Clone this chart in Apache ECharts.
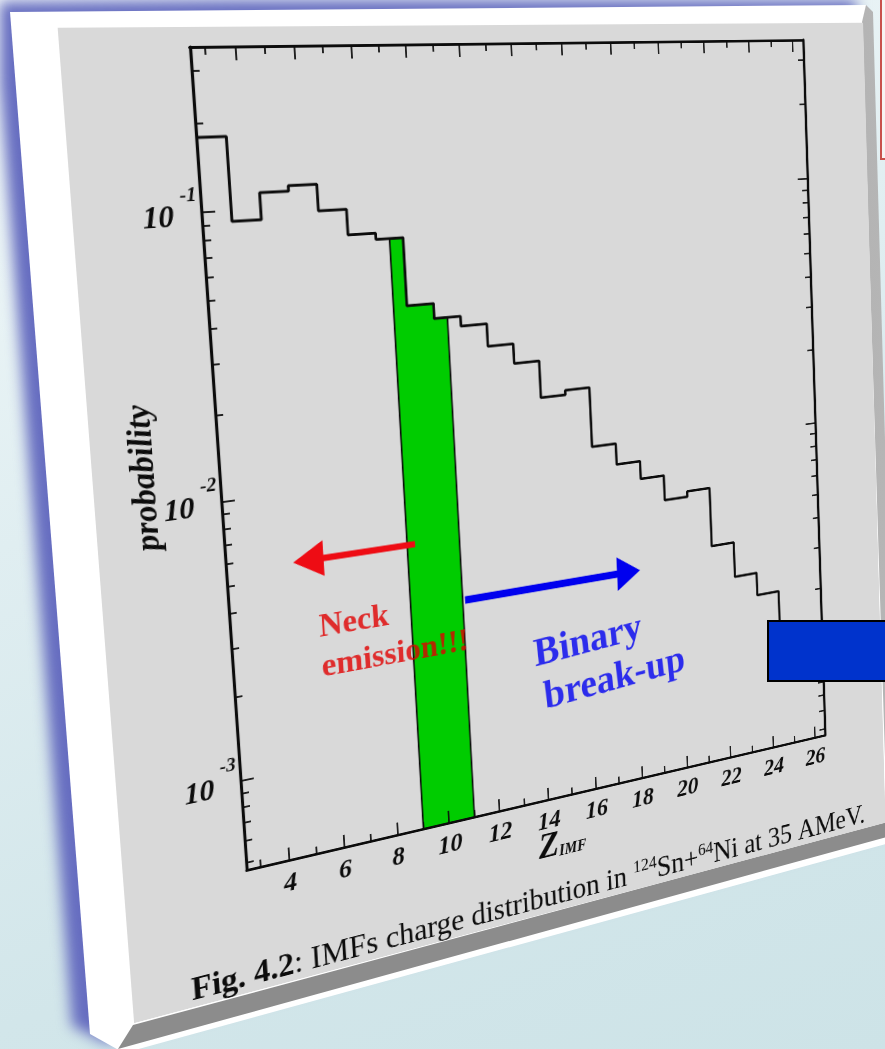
<!DOCTYPE html>
<html>
<head>
<meta charset="utf-8">
<script src="https://cdn.jsdelivr.net/npm/echarts@6/dist/echarts.min.js"></script>
<style>
  html, body { margin: 0; padding: 0; width: 885px; height: 1049px; overflow: hidden; }
  body { position: relative; background: linear-gradient(160deg, #f3f9fa 0%, #e0eef1 40%, #d2e6ea 75%, #cde3e7 100%); }
  .layer { position: absolute; left: 0; top: 0; width: 885px; height: 1049px; }
  #shadowWrap { filter: blur(7px); }
  #shadow { background: #666dc0; clip-path: polygon(-6px 2px, 856px -5px, 878px 832px, 106px 1043px, 72px 1026px); }
  #slab { background: #ffffff; clip-path: polygon(10px 12px, 866px 5px, 893px 842px, 124px 1053px, 90px 1034px); }
  #sideRight { background: linear-gradient(90deg, #8a8a8a, #b5b5b5); clip-path: polygon(862px 22px, 866px 5px, 873px 12px, 896px 832px, 887px 822px); }
  #sideBottom { background: #8c8c8c; clip-path: polygon(133px 1025px, 887px 822px, 890px 836px, 118px 1049px); }
  #face { position: absolute; left: 0; top: 0; transform-origin: 0 0; }
  #boxBlue { position: absolute; left: 767px; top: 620px; width: 130px; height: 58px; background: #0033cc; border: 2px solid #000; }
  #boxRed { position: absolute; left: 880px; top: -4px; width: 30px; height: 160px; background: #f7f3f3; border: 2px solid #c8504c; }
</style>
</head>
<body>
<div id="shadowWrap" class="layer"><div id="shadow" class="layer"></div></div>
<div id="slab" class="layer"></div>
<div id="sideRight" class="layer"></div>
<div id="sideBottom" class="layer"></div>
<div id="face"></div>
<div id="boxBlue"></div>
<div id="boxRed"></div>
<script>
// ---- data ----
const chargeZ = [3, 4, 5, 6, 7, 8, 9, 10, 11, 12, 13, 14, 15, 16, 17, 18, 19, 20, 21, 22, 23, 24, 25, 26];
const probability = [0.179, 0.092, 0.114, 0.119, 0.096, 0.078, 0.074, 0.042, 0.037, 0.034, 0.028, 0.0236,
                     0.0171, 0.0178, 0.0105, 0.0087, 0.0074, 0.0059, 0.0062, 0.0036, 0.0026, 0.0021, 0.0013, 0.0009];
const zRange = [2.5, 26.5];
const pRange = [4.7e-4, 0.36];
const zMajorTicks = [4, 6, 8, 10, 12, 14, 16, 18, 20, 22, 24, 26];
const zMinorTicks = [3, 5, 7, 9, 11, 13, 15, 17, 19, 21, 23, 25];
const zTickLabels = [4, 6, 8, 10, 12, 14, 16, 18, 20, 22, 24, 26];
const pMajorTicks = [1e-3, 1e-2, 1e-1];
const pMinorTicks = [5e-4, 6e-4, 7e-4, 8e-4, 9e-4,
                     2e-3, 3e-3, 4e-3, 5e-3, 6e-3, 7e-3, 8e-3, 9e-3,
                     2e-2, 3e-2, 4e-2, 5e-2, 6e-2, 7e-2, 8e-2, 9e-2,
                     0.2, 0.3];
const neckWindow = [9, 11];                          // highlighted Z interval
const arrowFrom = [[9.3, 0.0056], [11.09, 0.00322]];
const arrowTo = [[4.83, 0.0056], [18.3, 0.00322]];
const noteText = ['Neck', 'emission!!!', 'Binary', 'break-up'];
const noteAt = [[5.6, 0.00314], [5.61, 0.00224], [13.72, 0.00176], [14.04, 0.00118]];
const captionText = '{b|Fig. 4.2}{r|: IMFs charge distribution in }{s|124}{r|Sn+}{s|64}{r|Ni at 35 AMeV.}';

// ---- layout of the figure sheet ----
const CW = 944, CH = 1021;
const GL = 126, GT = 20, GW = 730, GH = 866;
// where the plot frame lands on the tilted sheet
const frameQuad = [[190, 47], [803, 40], [825, 735], [246.7, 870]];

function solveHomography(src, dst) {
  const M = [], r = [];
  for (let i = 0; i < 4; i++) {
    const [x, y] = src[i], [X, Y] = dst[i];
    M.push([x, y, 1, 0, 0, 0, -x * X, -y * X]); r.push(X);
    M.push([0, 0, 0, x, y, 1, -x * Y, -y * Y]); r.push(Y);
  }
  const n = 8;
  for (let c = 0; c < n; c++) {
    let p = c;
    for (let k = c + 1; k < n; k++) if (Math.abs(M[k][c]) > Math.abs(M[p][c])) p = k;
    [M[c], M[p]] = [M[p], M[c]]; [r[c], r[p]] = [r[p], r[c]];
    for (let k = 0; k < n; k++) {
      if (k === c) continue;
      const f = M[k][c] / M[c][c];
      for (let j = c; j < n; j++) M[k][j] -= f * M[c][j];
      r[k] -= f * r[c];
    }
  }
  return r.map((v, i) => v / M[i][i]);
}

const face = document.getElementById('face');
face.style.width = CW + 'px';
face.style.height = CH + 'px';
const [a, b, c, d, e, f, g, h] = solveHomography(
  [[GL, GT], [GL + GW, GT], [GL + GW, GT + GH], [GL, GT + GH]], frameQuad);
face.style.transform = `matrix3d(${a},${d},0,${g},${b},${e},0,${h},0,0,1,0,${c},${f},0,1)`;

// ---- chart ----
const serif = "'Liberation Serif','Times New Roman',serif";
const ink = '#0c0c0c';

const stepData = chargeZ.map((z, i) => [z - 0.5, probability[i]]);
stepData.push([chargeZ[chargeZ.length - 1] + 0.5, probability[probability.length - 1]]);

function neckOutline() {
  const pts = [[neckWindow[0], pRange[0]]];
  chargeZ.forEach((z, i) => {
    const lo = Math.max(z - 0.5, neckWindow[0]);
    const hi = Math.min(z + 0.5, neckWindow[1]);
    if (hi > lo) { pts.push([lo, probability[i]], [hi, probability[i]]); }
  });
  pts.push([neckWindow[1], pRange[0]]);
  return pts;
}

const axisFont = { fontFamily: serif, fontWeight: 'bold', fontStyle: 'italic', color: ink };

function xAxis(position, ticks, len, labels) {
  return {
    type: 'value', position, min: zRange[0], max: zRange[1],
    axisLine: { show: !!labels || position === 'top', onZero: false, lineStyle: { color: ink, width: 3.2 } },
    axisTick: { show: true, inside: true, length: len, customValues: ticks, lineStyle: { color: ink, width: 1.8 } },
    axisLabel: labels ? Object.assign({ show: true, customValues: labels, margin: 12, fontSize: 29 }, axisFont) : { show: false },
    splitLine: { show: false }
  };
}
function yAxis(position, ticks, len, labels) {
  return {
    type: 'log', logBase: 10, position, min: pRange[0], max: pRange[1],
    axisLine: { show: !!labels || position === 'right', onZero: false, lineStyle: { color: ink, width: 3.2 } },
    axisTick: { show: true, inside: true, length: len, customValues: ticks, lineStyle: { color: ink, width: 1.8 } },
    minorTick: { show: false },
    axisLabel: labels ? {
      show: true, customValues: labels, margin: 4, padding: [10, 0, 0, 0],
      formatter: v => '{b|10}{s|-' + Math.round(-Math.log10(v)) + '}',
      rich: {
        b: Object.assign({ fontSize: 31, lineHeight: 31, verticalAlign: 'bottom' }, axisFont),
        s: Object.assign({ fontSize: 20, lineHeight: 20, verticalAlign: 'bottom', padding: [0, 0, 28, 7] }, axisFont)
      }
    } : { show: false },
    splitLine: { show: false }
  };
}

const xAxes = [
  xAxis('bottom', zMajorTicks, 14, zTickLabels),
  xAxis('bottom', zMinorTicks, 8, null),
  xAxis('top', zMajorTicks, 14, null),
  xAxis('top', zMinorTicks, 8, null)
];
Object.assign(xAxes[0], {
  name: '{z|Z}{sub|IMF}', nameLocation: 'middle', nameGap: 36, nameMoveOverlap: false,
  nameTextStyle: { rich: {
    z: Object.assign({ fontSize: 42, lineHeight: 42, verticalAlign: 'bottom' }, axisFont),
    sub: Object.assign({ fontSize: 18, lineHeight: 18, verticalAlign: 'bottom', padding: [0, 0, 4, 0] }, axisFont)
  } }
});
const yAxes = [
  yAxis('left', pMajorTicks, 14, pMajorTicks),
  yAxis('left', pMinorTicks, 8, null),
  yAxis('right', pMajorTicks, 14, null),
  yAxis('right', pMinorTicks, 8, null)
];
Object.assign(yAxes[0], {
  name: 'probability', nameLocation: 'middle', nameGap: 58, nameMoveOverlap: false,
  nameTextStyle: Object.assign({ fontSize: 34 }, axisFont)
});

const arrowStyle = [
  { color: '#ee0c14', head: 33, width: 39, shaft: 7 },
  { color: '#0000ee', head: 30, width: 40, shaft: 8.5 }
];
const noteStyle = [
  { color: '#e00000', size: 36, rotate: 0 },
  { color: '#e00000', size: 36, rotate: 0 },
  { color: '#0000f0', size: 47, rotate: 4 },
  { color: '#0000f0', size: 47, rotate: 4 }
];

const chart = echarts.init(face, null, { renderer: 'canvas', width: CW, height: CH });
chart.setOption({
  animation: false,
  backgroundColor: '#d9d9d9',
  grid: { left: GL, top: GT, width: GW, height: GH, containLabel: false, outerBoundsMode: 'none' },
  title: {
    text: captionText, left: 55, top: 978,
    textStyle: { rich: {
      b: { fontFamily: serif, fontWeight: 'bold', fontSize: 35, lineHeight: 38, color: ink, verticalAlign: 'bottom' },
      r: { fontFamily: serif, fontWeight: 'normal', fontSize: 35, lineHeight: 38, color: ink, verticalAlign: 'bottom' },
      s: { fontFamily: serif, fontWeight: 'normal', fontSize: 21, lineHeight: 21, color: ink, verticalAlign: 'bottom', padding: [0, 0, 16, 0] }
    } }
  },
  xAxis: xAxes,
  yAxis: yAxes,
  series: [
    {
      type: 'custom', name: 'neck window', xAxisIndex: 0, yAxisIndex: 0, z: -1,
      data: [0],
      renderItem: (params, api) => ({
        type: 'polygon',
        shape: { points: neckOutline().map(pt => api.coord(pt)) },
        style: { fill: '#00cc00', stroke: ink, lineWidth: 1.8 }
      })
    },
    {
      type: 'line', name: 'IMF charge distribution', xAxisIndex: 0, yAxisIndex: 0, z: 3,
      step: 'end', symbol: 'none', data: stepData,
      lineStyle: { color: ink, width: 3 }
    },
    {
      type: 'custom', name: 'arrows', xAxisIndex: 0, yAxisIndex: 0, z: 4,
      data: arrowFrom.map((p, i) => [p[0], p[1], arrowTo[i][0], arrowTo[i][1]]),
      renderItem: (params, api) => {
        const st = arrowStyle[params.dataIndex];
        const p0 = api.coord([api.value(0), api.value(1)]);
        const p1 = api.coord([api.value(2), api.value(3)]);
        const dx = p1[0] - p0[0], dy = p1[1] - p0[1];
        const L = Math.hypot(dx, dy), ux = dx / L, uy = dy / L, nx = -uy, ny = ux;
        const bx = p1[0] - ux * st.head, by = p1[1] - uy * st.head;
        const sw = st.shaft / 2, hw = st.width / 2;
        return {
          type: 'polygon',
          shape: { points: [
            [p0[0] + nx * sw, p0[1] + ny * sw], [bx + nx * sw, by + ny * sw], [bx + nx * hw, by + ny * hw],
            [p1[0], p1[1]],
            [bx - nx * hw, by - ny * hw], [bx - nx * sw, by - ny * sw], [p0[0] - nx * sw, p0[1] - ny * sw]
          ] },
          style: { fill: st.color }
        };
      }
    },
    {
      type: 'scatter', name: 'notes', xAxisIndex: 0, yAxisIndex: 0, z: 5,
      symbolSize: 0, silent: true,
      data: noteAt.map((p, i) => ({
        value: p,
        label: {
          show: true, position: 'right', distance: 0, formatter: noteText[i],
          fontFamily: serif, fontWeight: 'bold', fontSize: noteStyle[i].size,
          color: noteStyle[i].color, rotate: noteStyle[i].rotate, align: 'left', verticalAlign: 'middle'
        }
      }))
    }
  ]
});
</script>
</body>
</html>
